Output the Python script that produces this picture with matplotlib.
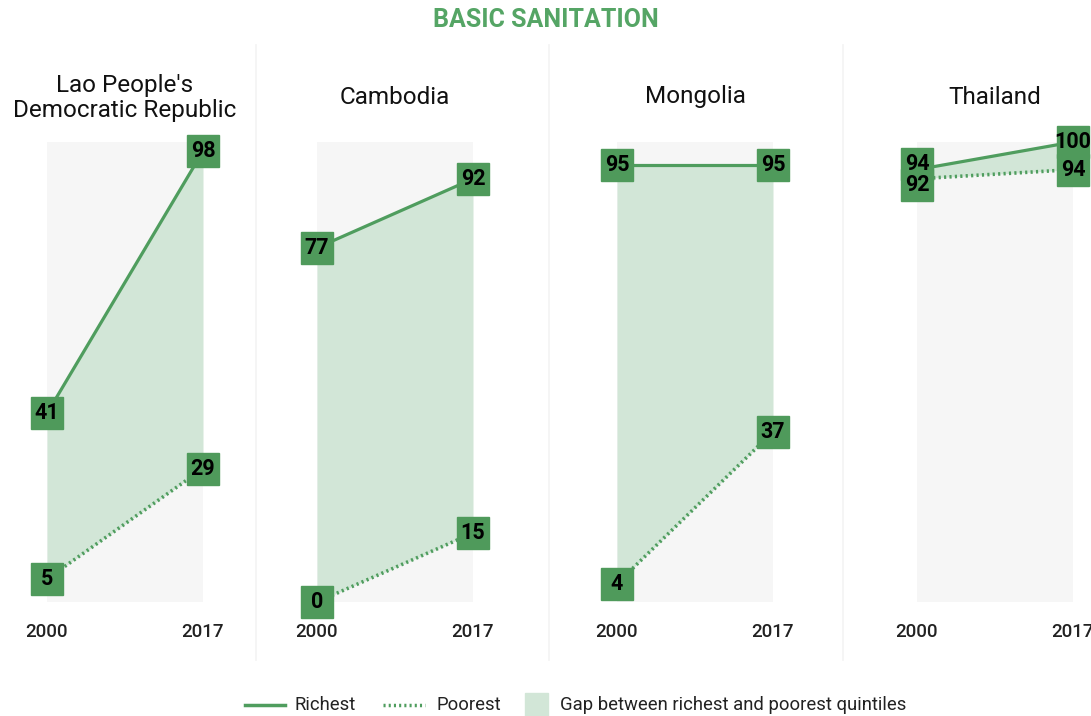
import matplotlib
matplotlib.use("Agg")
import matplotlib.pyplot as plt
from matplotlib.lines import Line2D
from matplotlib.patches import Rectangle

plt.rcParams['font.family'] = ['Roboto', 'DejaVu Sans']

# ---- data ----
countries = ["Lao People's\nDemocratic Republic", "Cambodia", "Mongolia", "Thailand"]
years = [2000, 2017]
richest = [[41, 98], [77, 92], [95, 95], [94, 100]]
poorest = [[5, 29], [0, 15], [4, 37], [92, 94]]
chart_title = "BASIC SANITATION"
legend_labels = ["Richest", "Poorest", "Gap between richest and poorest quintiles"]

# ---- style ----
W, H = 1091, 716
GREEN_LINE = '#4f9d5e'
GREEN_BOX = '#4f9a5b'
FILL = '#d2e6d7'
BG = '#f6f6f6'
TITLE_GREEN = '#55a565'

fig = plt.figure(figsize=(W / 100, H / 100), dpi=100)

def fx(px):
    return px / W

def fy(py):
    return 1 - py / H

panel_left = [47, 317, 617, 917]
pw, top, bottom = 156, 142, 602
sep_x = [256, 549, 843]

for sx in sep_x:
    fig.add_artist(Line2D([fx(sx), fx(sx)], [fy(45), fy(660)], color='#f3f3f3', lw=1.2,
                          transform=fig.transFigure))

fig.text(0.5, fy(20), chart_title, ha='center', va='center', fontsize=18,
         fontweight='bold', color=TITLE_GREEN)

px_per_unit = (bottom - top) / 100.0
min_sep = 21  # px

for i, c in enumerate(countries):
    ax = fig.add_axes([fx(panel_left[i]), fy(bottom), fx(pw), (bottom - top) / H])
    ax.set_xlim(years[0], years[1])
    ax.set_ylim(0, 100)
    ax.set_facecolor(BG)
    for s in ax.spines.values():
        s.set_visible(False)
    ax.set_xticks([])
    ax.set_yticks([])
    r = richest[i]
    p = poorest[i]
    ax.fill_between(years, p, r, color=FILL, lw=0, zorder=1)
    ax.plot(years, r, color=GREEN_LINE, lw=2.3, solid_capstyle='butt', zorder=2, clip_on=False)
    ax.plot(years, p, color=GREEN_LINE, lw=2.6, linestyle=(0, (0.6, 0.9)), zorder=2, clip_on=False)

    for j, yr in enumerate(years):
        yr_r, yr_p = r[j], p[j]
        sep_units = min_sep / px_per_unit
        lr, lp = yr_r, yr_p
        if abs(yr_r - yr_p) * px_per_unit < min_sep:
            mid = (yr_r + yr_p) / 2
            lr = mid + sep_units / 2
            lp = mid - sep_units / 2
        for val, lv in ((yr_r, lr), (yr_p, lp)):
            ax.plot([yr], [lv], marker='s', ms=23, color=GREEN_BOX, mec=GREEN_BOX,
                    zorder=3, clip_on=False, linestyle='none')
            ax.text(yr, lv, str(val), ha='center', va='center', fontsize=15.5,
                    fontweight='bold', color='black', zorder=4, clip_on=False)
        ax.text(yr, -6.5, str(yr), ha='center', va='center', fontsize=13.5,
                fontweight='medium', color='#222222', clip_on=False)

    cx = panel_left[i] + pw / 2
    ty = 98 if '\n' in c else 97
    fig.text(fx(cx), fy(ty), c, ha='center', va='center', fontsize=17.5,
             color='#111111', linespacing=1.12)

# ---- legend ----
ly = 705
fs_leg = 13.3
fig.add_artist(Line2D([fx(245), fx(285)], [fy(ly), fy(ly)], color=GREEN_LINE, lw=2.5,
                      transform=fig.transFigure))
fig.text(fx(295), fy(ly), legend_labels[0], ha='left', va='center', fontsize=fs_leg, color='#222222')
fig.add_artist(Line2D([fx(383), fx(425)], [fy(ly), fy(ly)], color=GREEN_LINE, lw=2.5,
                      linestyle=(0, (0.6, 0.9)), transform=fig.transFigure))
fig.text(fx(437), fy(ly), legend_labels[1], ha='left', va='center', fontsize=fs_leg, color='#222222')
fig.add_artist(Rectangle((fx(525), fy(716)), fx(23), 23 / H, color=FILL,
                         transform=fig.transFigure))
fig.text(fx(560), fy(ly), legend_labels[2], ha='left', va='center', fontsize=fs_leg, color='#222222')

fig.savefig('out.png', dpi=100)
